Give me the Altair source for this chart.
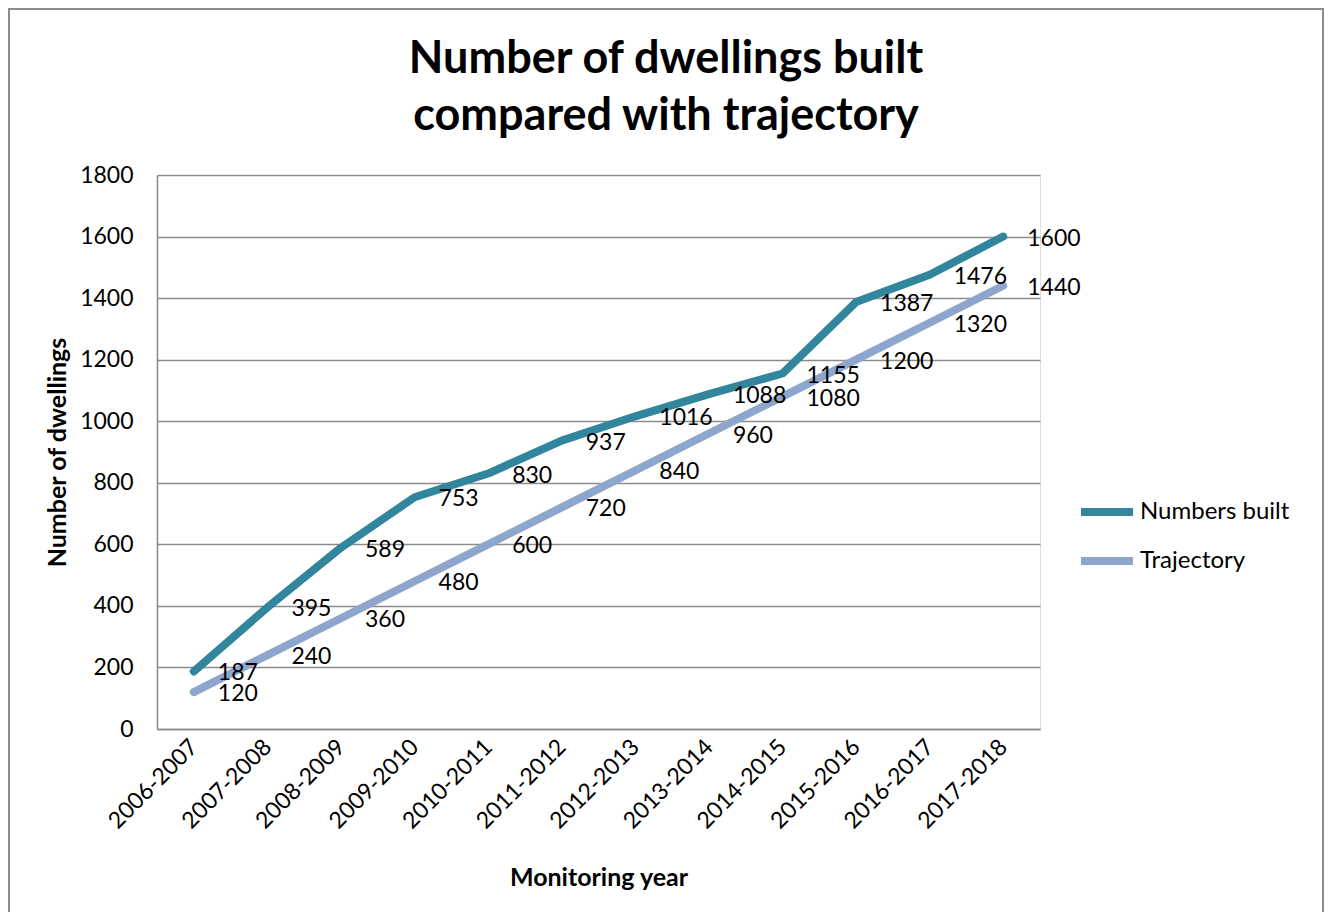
import altair as alt
import pandas as pd

years = ["2006-2007", "2007-2008", "2008-2009", "2009-2010", "2010-2011", "2011-2012",
         "2012-2013", "2013-2014", "2014-2015", "2015-2016", "2016-2017", "2017-2018"]
built = [187, 395, 589, 753, 830, 937, 1016, 1088, 1155, 1387, 1476, 1600]
trajectory = [120, 240, 360, 480, 600, 720, 840, 960, 1080, 1200, 1320, 1440]
series = ["Numbers built", "Trajectory"]
colors = ["#31859C", "#8EA5CC"]
title_lines = ["Number of dwellings built", "compared with trajectory"]

rows = []
for i, y in enumerate(years):
    rows.append({"year": y, "series": series[0], "value": built[i], "order": 0})
    rows.append({"year": y, "series": series[1], "value": trajectory[i], "order": 1})
df = pd.DataFrame(rows)

FONT = "Lato"
W, H = 883, 554


def build(use_encode):
    x = alt.X("year:N", sort=years, scale=alt.Scale(type="point", padding=0.5),
              axis=alt.Axis(title="Monitoring year", labelAngle=-45, labelAlign="right",
                            labelBaseline="middle", labelFontSize=23, labelFont=FONT,
                            labelColor="black", labelPadding=14, ticks=False,
                            domainColor="#888888", domainWidth=1.5,
                            titleFontSize=25, titleFont=FONT, titleFontWeight="bold",
                            titleColor="black", titlePadding=33))
    y = alt.Y("value:Q", scale=alt.Scale(domain=[0, 1800]),
              axis=alt.Axis(title="Number of dwellings", values=list(range(0, 1801, 200)),
                            format="d",
                            labelFontSize=23, labelFont=FONT, labelColor="black",
                            labelPadding=24, ticks=False, domainColor="#888888", domainWidth=1.5,
                            grid=True, gridColor="#8C8C8C", gridWidth=1.5,
                            titleFontSize=25, titleFont=FONT, titleFontWeight="bold",
                            titleColor="black", titlePadding=9))
    leg = dict(title=None, orient="none", legendX=920, legendY=307,
               symbolType="stroke", symbolSize=2704,
               symbolStrokeWidth=8, labelFontSize=24, labelFont=FONT,
               labelColor="black", labelOffset=3, rowPadding=3)
    if use_encode:
        leg["encode"] = {"symbols": {"update": {"strokeCap": {"value": "round"}}}}
    color = alt.Color("series:N", scale=alt.Scale(domain=series, range=colors),
                      legend=alt.Legend(**leg))

    lines = alt.Chart(df).mark_line(strokeWidth=8, strokeCap="round", strokeJoin="round").encode(
        x=x, y=y, color=color, detail="series:N", order="order:Q")

    labels = alt.Chart(df).mark_text(align="left", baseline="middle", dx=24, dy=2, fontSize=23,
                                     font=FONT, color="black").encode(
        x=alt.X("year:N", sort=years), y="value:Q", text="value:Q")

    one = pd.DataFrame({"a": [0]})
    frame = alt.Chart(one).mark_rect(
        fill=None, stroke="#8C8C8C", strokeWidth=2, clip=False).encode(
        x=alt.value(-148), x2=alt.value(1166), y=alt.value(-166), y2=alt.value(760))

    t1 = alt.Chart(one).mark_text(text=title_lines[0], font=FONT, fontSize=45,
                                  fontWeight="bold", color="black", align="center",
                                  baseline="alphabetic").encode(
        x=alt.value(509), y=alt.value(-102))
    t2 = alt.Chart(one).mark_text(text=title_lines[1], font=FONT, fontSize=45,
                                  fontWeight="bold", color="black", align="center",
                                  baseline="alphabetic").encode(
        x=alt.value(509), y=alt.value(-45))

    ch = alt.layer(frame, t1, t2, lines, labels).properties(
        width=W, height=H,
        autosize=alt.AutoSizeParams(type="none"),
        padding={"left": 149, "top": 167, "right": 284, "bottom": 183},
    ).configure_view(stroke=None).configure(background="white")
    return ch


try:
    chart = build(True)
    chart.to_dict()
except Exception:
    chart = build(False)

chart.save("out.html", embed_options={"renderer": "svg", "actions": False})
